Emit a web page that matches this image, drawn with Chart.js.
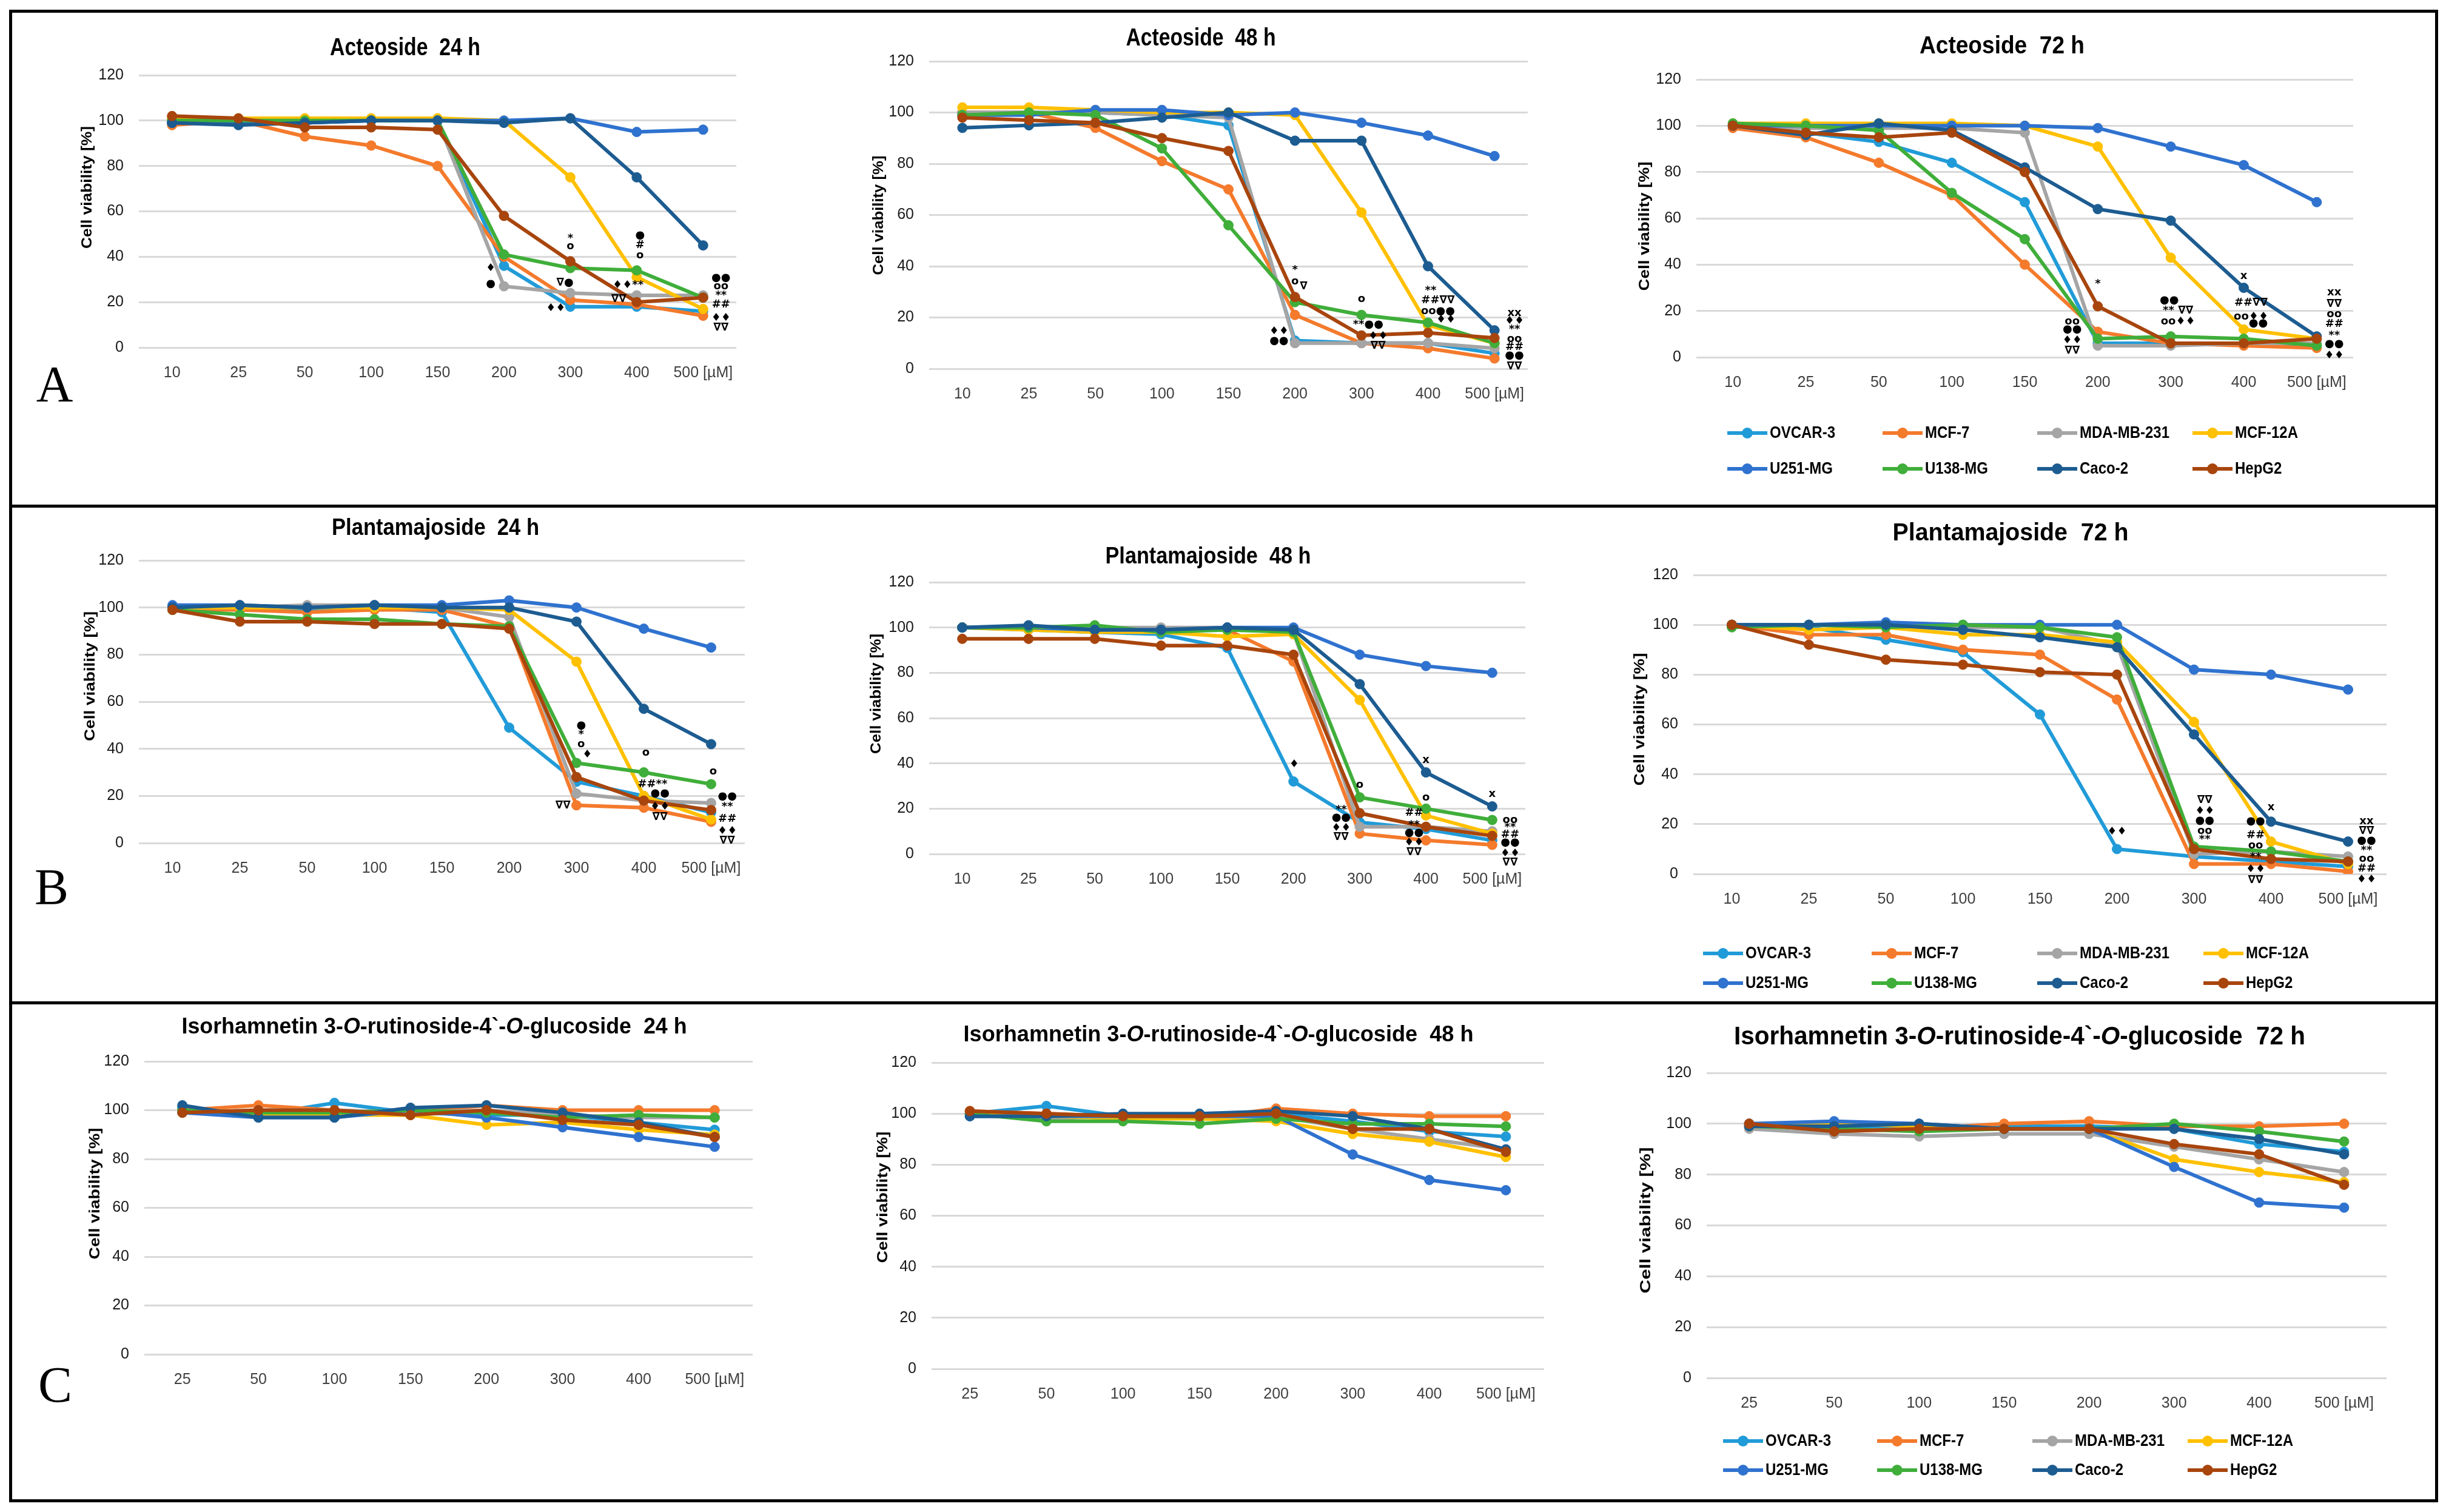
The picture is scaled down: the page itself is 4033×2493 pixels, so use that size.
<!DOCTYPE html>
<html>
<head>
<meta charset="utf-8">
<script src="https://cdn.jsdelivr.net/npm/chart.js@4.4.0/dist/chart.umd.min.js"></script>
<style>
html, body { margin: 0; padding: 0; background: #fff; }
#page { position: relative; width: 4033px; height: 2493px; overflow: hidden; background: #fff; }
#page canvas { position: absolute; }
.rule { position: absolute; background: #000; }
</style>
</head>
<body>
<div id="page"></div>
<script>
// series names and colours (Excel-like palette)
const cellLines = ['OVCAR-3', 'MCF-7', 'MDA-MB-231', 'MCF-12A', 'U251-MG', 'U138-MG', 'Caco-2', 'HepG2'];
const lineColors = ['#219BD8', '#F47A2C', '#A5A5A5', '#FFC000', '#2F72CF', '#3FAE3A', '#1C5C91', '#A8450D'];

const dosesAB = ['10', '25', '50', '100', '150', '200', '300', '400', '500 [µM]'];
const dosesC = ['25', '50', '100', '150', '200', '300', '400', '500 [µM]'];

// cell viability [%], one row per cell line (same order as cellLines)
const act24 = [
    [99, 99, 99, 100, 100, 36, 18, 18, 16],
    [98, 100, 93, 89, 80, 40, 21, 19, 14],
    [100, 100, 100, 100, 100, 27, 24, 23, 23],
    [101, 101, 101, 101, 101, 100, 75, 31, 17],
    [99, 99, 99, 100, 100, 100, 101, 95, 96],
    [100, 100, 100, 100, 100, 41, 35, 34, 22],
    [99, 98, 99, 100, 100, 99, 101, 75, 45],
    [102, 101, 97, 97, 96, 58, 38, 20, 22]
];
const act48 = [
    [100, 100, 100, 99, 95, 11, 10, 10, 6],
    [100, 100, 94, 81, 70, 21, 10, 8, 4],
    [100, 100, 100, 99, 98, 10, 10, 10, 8],
    [102, 102, 101, 100, 100, 99, 61, 17, 10],
    [99, 99, 101, 101, 99, 100, 96, 91, 83],
    [99, 100, 99, 86, 56, 26, 21, 18, 10],
    [94, 95, 96, 98, 100, 89, 89, 40, 15],
    [98, 97, 96, 90, 85, 28, 13, 14, 12]
];
const act72 = [
    [100, 97, 93, 84, 67, 6, 6, 6, 5],
    [99, 95, 84, 70, 40, 11, 6, 5, 4],
    [100, 99, 99, 99, 97, 5, 5, 6, 6],
    [101, 101, 101, 101, 100, 91, 43, 12, 8],
    [100, 100, 100, 100, 100, 99, 91, 83, 67],
    [101, 100, 98, 71, 51, 8, 9, 8, 5],
    [100, 96, 101, 98, 82, 64, 59, 30, 9],
    [100, 97, 95, 97, 80, 22, 6, 6, 8]
];
const plant24 = [
    [100, 100, 99, 100, 98, 49, 26, 20, 13],
    [99, 99, 98, 99, 99, 92, 16, 15, 9],
    [100, 100, 101, 101, 100, 96, 21, 18, 17],
    [100, 100, 100, 100, 100, 99, 77, 20, 10],
    [101, 101, 100, 101, 101, 103, 100, 91, 83],
    [99, 97, 95, 95, 93, 92, 34, 30, 25],
    [100, 101, 100, 101, 100, 100, 94, 57, 42],
    [99, 94, 94, 93, 93, 91, 28, 18, 14]
];
const plant48 = [
    [100, 99, 98, 97, 91, 32, 14, 11, 6],
    [100, 100, 99, 99, 99, 85, 9, 6, 4],
    [100, 100, 100, 100, 100, 98, 12, 12, 10],
    [100, 99, 98, 98, 96, 97, 68, 17, 9],
    [100, 100, 99, 99, 100, 100, 88, 83, 80],
    [100, 100, 101, 98, 99, 98, 25, 20, 15],
    [100, 101, 99, 99, 100, 99, 75, 36, 21],
    [95, 95, 95, 92, 92, 88, 18, 12, 8]
];
const plant72 = [
    [100, 99, 94, 89, 64, 10, 7, 5, 3],
    [100, 96, 96, 90, 88, 70, 4, 4, 1],
    [100, 100, 100, 99, 99, 92, 8, 9, 7],
    [100, 98, 99, 96, 96, 93, 61, 13, 4],
    [100, 100, 101, 100, 100, 100, 82, 80, 74],
    [99, 100, 99, 100, 99, 95, 11, 9, 5],
    [100, 100, 100, 98, 95, 91, 56, 21, 13],
    [100, 92, 86, 84, 81, 80, 10, 6, 5]
];
const iso24 = [
    [101, 98, 103, 99, 98, 98, 95, 92],
    [100, 102, 100, 99, 102, 100, 100, 100],
    [99, 100, 100, 99, 100, 98, 97, 97],
    [99, 98, 98, 98, 94, 95, 92, 90],
    [99, 97, 97, 100, 97, 93, 89, 85],
    [100, 99, 99, 100, 99, 97, 98, 97],
    [102, 97, 97, 101, 102, 99, 95, 89],
    [99, 100, 100, 98, 100, 96, 94, 89]
];
const iso48 = [
    [100, 103, 99, 99, 100, 97, 93, 91],
    [101, 100, 99, 98, 102, 100, 99, 99],
    [100, 98, 99, 99, 99, 94, 90, 86],
    [100, 99, 98, 98, 97, 92, 89, 83],
    [99, 99, 99, 99, 99, 84, 74, 70],
    [100, 97, 97, 96, 98, 96, 96, 95],
    [99, 99, 100, 100, 101, 99, 94, 86],
    [101, 100, 99, 99, 100, 94, 94, 85]
];
const iso72 = [
    [100, 99, 99, 99, 99, 98, 92, 89],
    [100, 97, 98, 100, 101, 99, 99, 100],
    [98, 96, 95, 96, 96, 91, 86, 81],
    [99, 100, 99, 98, 98, 86, 81, 77],
    [100, 101, 100, 98, 98, 83, 69, 67],
    [99, 98, 97, 98, 98, 100, 97, 93],
    [99, 99, 100, 98, 98, 98, 94, 88],
    [100, 97, 98, 98, 98, 92, 88, 76]
];

// significance symbols: [dose index, viability, text]
const act24Marks = [
    [4.8, 35, '♦'], [4.8, 28, '●'],
    [6.0, 48, '*'], [6.0, 44.5, 'o'], [5.92, 28.5, '∇●'], [5.78, 17.4, '♦♦'],
    [7.05, 49.4, '●'], [7.05, 45, '#'], [7.05, 40.6, 'o'], [6.87, 27.4, '♦♦**'], [6.73, 21.4, '∇∇'],
    [8.27, 30.6, '●●'], [8.27, 26.8, 'oo'], [8.27, 22.8, '**'], [8.27, 18.8, '##'], [8.27, 13.1, '♦♦'], [8.27, 8.8, '∇∇']
];
const act48Marks = [
    [5.0, 38.6, '*'], [5.0, 34, 'o'], [5.13, 32, '∇'],
    [4.76, 14.6, '♦♦'], [4.76, 10.8, '●●'],
    [6.0, 27.2, 'o'], [6.1, 17.3, '**●●'], [6.25, 12.7, '♦♦'], [6.25, 8.9, '∇∇'],
    [7.04, 30.4, '**'], [7.15, 26.6, '##∇∇'], [7.15, 22.5, 'oo●●'], [7.27, 19, '♦♦'],
    [8.3, 21.8, 'xx'], [8.3, 18.6, '♦♦'], [8.3, 15.2, '**'], [8.3, 11.6, 'oo'], [8.3, 8.5, '##'], [8.3, 5.1, '●●'], [8.3, 0.9, '∇∇']
];
const act72Marks = [
    [4.65, 15.4, 'oo'], [4.65, 11.9, '●●'], [4.65, 7.3, '♦♦'], [4.65, 2.8, '∇∇'],
    [5.0, 31.5, '*'],
    [5.98, 24.5, '●●'], [6.1, 20, '** ∇∇'], [6.1, 15.4, 'oo♦♦'],
    [7.0, 35, 'x'], [7.1, 23.4, '##∇∇'], [7.1, 17.5, 'oo♦♦'], [7.2, 14.7, '●●'],
    [8.24, 28, 'xx'], [8.24, 23.1, '∇∇'], [8.24, 18.6, 'oo'], [8.24, 14.3, '##'], [8.24, 9.4, '**'], [8.24, 5.6, '●●'], [8.24, 0.7, '♦♦']
];
const plant24Marks = [
    [6.07, 49.8, '●'], [6.07, 46, '*'], [6.07, 42, 'o'], [6.16, 37.5, '♦'],
    [5.8, 15.9, '∇∇'],
    [7.03, 38.4, 'o'], [7.13, 24.8, '##**'], [7.24, 21, '●●'], [7.24, 15.3, '♦♦'], [7.24, 11, '∇∇'],
    [8.03, 30.4, 'o'], [8.24, 19.7, '●●'], [8.24, 15.3, '**'], [8.24, 10.3, '##'], [8.24, 5, '♦♦'], [8.24, 0.9, '∇∇']
];
const plant48Marks = [
    [5.01, 39.6, '♦'],
    [5.72, 19.4, '**'], [5.72, 15.9, '●●'], [5.72, 11.4, '♦♦'], [5.72, 7.3, '∇∇'],
    [6.0, 30.5, 'o'],
    [7.0, 41.4, 'x'], [7.0, 24.7, 'o'], [6.82, 18.1, '##'], [6.82, 12.8, '**'], [6.82, 9.3, '●●'], [6.82, 4.9, '♦♦'], [6.82, 0.7, '∇∇'],
    [8.0, 26.4, 'x'], [8.27, 14.9, 'oo'], [8.27, 11.7, '**'], [8.27, 8.6, '##'], [8.27, 4.9, '●●'], [8.27, 0.3, '♦♦'], [8.27, -3.9, '∇∇']
];
const plant72Marks = [
    [5.0, 16.9, '♦♦'],
    [6.14, 29.5, '∇∇'], [6.14, 25.2, '♦♦'], [6.14, 21.3, '●●'], [6.14, 17.2, 'oo'], [6.14, 13.7, '**'],
    [7.0, 26.7, 'x'], [6.8, 21.2, '●●'], [6.8, 15.6, '##'], [6.8, 11.4, 'oo'], [6.8, 6.7, '**'], [6.8, 1.9, '♦♦'], [6.8, -2.5, '∇∇'],
    [8.24, 21.2, 'xx'], [8.24, 17.2, '∇∇'], [8.24, 13.3, '●●'], [8.24, 9.5, '**'], [8.24, 6, 'oo'], [8.24, 2.2, '##'], [8.24, -2.2, '♦♦']
];

const isoTitle = (h) => [['Isorhamnetin 3-', false], ['O', true], ['-rutinoside-4`-', false], ['O', true], ['-glucoside  ' + h, false]];

const NARROW = '"Liberation Sans Narrow", "Arial Narrow", "Liberation Sans", sans-serif';
const WIDE = '"Liberation Sans", Arial, sans-serif';

// page layout, in page pixels; titleAt = [centre x, centre y, width, font size]
const panels = [
    { data: act24, labels: dosesAB, marks: act24Marks, title: [['Acteoside  24 h', false]],
      box: [0, 0, 1337, 836], plot: [229, 124, 1214, 573], titleAt: [668, 80, 248, 40], yTitleAt: [145, 309, 202], letter: ['A', 90, 662] },
    { data: act48, labels: dosesAB, marks: act48Marks, title: [['Acteoside  48 h', false]],
      box: [1337, 0, 2649, 836], plot: [1532, 101, 2519, 608], titleAt: [1980, 64, 247, 40], yTitleAt: [1450, 355, 197] },
    { data: act72, labels: dosesAB, marks: act72Marks, title: [['Acteoside  72 h', false]],
      box: [2649, 0, 4033, 836], plot: [2797, 131, 3880, 589], titleAt: [3301, 77, 272, 40], yTitleAt: [2713, 373, 213],
      legend: { cols: [2848, 3104, 3359, 3615], rows: [714, 773] } },
    { data: plant24, labels: dosesAB, marks: plant24Marks, title: [['Plantamajoside  24 h', false]],
      box: [0, 836, 1337, 1654], plot: [229, 924, 1228, 1390], titleAt: [718, 872, 342, 38], yTitleAt: [150, 1115, 214], letter: ['B', 85, 1491] },
    { data: plant48, labels: dosesAB, marks: plant48Marks, title: [['Plantamajoside  48 h', false]],
      box: [1337, 836, 2649, 1654], plot: [1532, 960, 2515, 1408], titleAt: [1992, 919, 339, 38], yTitleAt: [1446, 1144, 198] },
    { data: plant72, labels: dosesAB, marks: plant72Marks, title: [['Plantamajoside  72 h', false]],
      box: [2649, 836, 4033, 1654], plot: [2792, 948, 3935, 1441], titleAt: [3315, 880, 389, 40], yTitleAt: [2705, 1186, 219],
      legend: { cols: [2808, 3086, 3359, 3633], rows: [1572, 1621] } },
    { data: iso24, labels: dosesC, marks: [], title: isoTitle('24 h'),
      box: [0, 1654, 1337, 2493], plot: [238, 1750, 1241, 2233], titleAt: [716, 1694, 833, 37], yTitleAt: [158, 1968, 217], letter: ['C', 91, 2312] },
    { data: iso48, labels: dosesC, marks: [], title: isoTitle('48 h'),
      box: [1337, 1654, 2649, 2493], plot: [1536, 1752, 2546, 2257], titleAt: [2009, 1707, 841, 37], yTitleAt: [1457, 1974, 217] },
    { data: iso72, labels: dosesC, marks: [], title: isoTitle('72 h'),
      box: [2649, 1654, 4033, 2493], plot: [2814, 1769, 3935, 2272], titleAt: [3330, 1710, 942, 42], yTitleAt: [2715, 2012, 241],
      legend: { cols: [2841, 3095, 3351, 3607], rows: [2376, 2424] } }
];

function segWidth(ctx, segs, weight, size, family) {
    let w = 0;
    segs.forEach(s => {
        ctx.font = (s[1] ? 'italic ' : '') + weight + ' ' + size + 'px ' + family;
        w += ctx.measureText(s[0]).width;
    });
    return w;
}

// text at a given font size, squeezed horizontally to the wanted width
function drawSegs(ctx, segs, cx, cy, target, size, weight, family) {
    const w = segWidth(ctx, segs, weight, size, family);
    ctx.save();
    ctx.translate(cx - target / 2, cy);
    ctx.scale(target / w, 1);
    ctx.textAlign = 'left';
    ctx.textBaseline = 'middle';
    ctx.fillStyle = '#000';
    let x = 0;
    segs.forEach(s => {
        ctx.font = (s[1] ? 'italic ' : '') + weight + ' ' + size + 'px ' + family;
        ctx.fillText(s[0], x, 0);
        x += ctx.measureText(s[0]).width;
    });
    ctx.restore();
}

function makeDecor(p) {
    return {
        id: 'decor',
        afterDraw(chart) {
            const ctx = chart.ctx;
            const ox = p.box[0], oy = p.box[1];
            ctx.save();
            drawSegs(ctx, p.title, p.titleAt[0] - ox, p.titleAt[1] - oy, p.titleAt[2], p.titleAt[3], 'bold', WIDE);

            ctx.save();
            ctx.translate(p.yTitleAt[0] - ox, p.yTitleAt[1] - oy);
            ctx.rotate(-Math.PI / 2);
            drawSegs(ctx, [['Cell viability [%]', false]], 0, 0, p.yTitleAt[2], 23, 'bold', WIDE);
            ctx.restore();

            // significance symbols
            const xs = chart.scales.x, ys = chart.scales.y;
            ctx.font = 'bold 18px "DejaVu Sans", sans-serif';
            ctx.textAlign = 'center';
            ctx.textBaseline = 'middle';
            ctx.fillStyle = '#000';
            p.marks.forEach(m => {
                ctx.fillText(m[2], xs.getPixelForValue(m[0]), ys.getPixelForValue(m[1]));
            });

            if (p.legend) {
                const fs = 27;
                const sx = 108 / segWidth(ctx, [['OVCAR-3', false]], 'bold', fs, WIDE);
                cellLines.forEach((name, i) => {
                    const x0 = p.legend.cols[i % 4] - ox;
                    const y = p.legend.rows[Math.floor(i / 4)] - oy;
                    ctx.strokeStyle = lineColors[i];
                    ctx.lineWidth = 6;
                    ctx.beginPath();
                    ctx.moveTo(x0, y);
                    ctx.lineTo(x0 + 66, y);
                    ctx.stroke();
                    ctx.fillStyle = lineColors[i];
                    ctx.beginPath();
                    ctx.arc(x0 + 33, y, 9, 0, Math.PI * 2);
                    ctx.fill();
                    ctx.save();
                    ctx.translate(x0 + 70, y + 1);
                    ctx.scale(sx, 1);
                    ctx.fillStyle = '#000';
                    ctx.font = 'bold ' + fs + 'px ' + WIDE;
                    ctx.textAlign = 'left';
                    ctx.textBaseline = 'middle';
                    ctx.fillText(name, 0, 0);
                    ctx.restore();
                });
            }

            if (p.letter) {
                ctx.fillStyle = '#000';
                ctx.font = '84px "Liberation Serif", "Times New Roman", serif';
                ctx.textAlign = 'center';
                ctx.textBaseline = 'alphabetic';
                ctx.fillText(p.letter[0], p.letter[1] - ox, p.letter[2] - oy);
            }
            ctx.restore();
        }
    };
}

const page = document.getElementById('page');
const X_AXIS_H = 60;

panels.forEach(p => {
    const [bx0, by0, bx1, by1] = p.box;
    const [px0, py0, px1, py1] = p.plot;
    const cv = document.createElement('canvas');
    cv.width = bx1 - bx0;
    cv.height = by1 - by0;
    cv.style.left = bx0 + 'px';
    cv.style.top = by0 + 'px';
    cv.style.width = cv.width + 'px';
    cv.style.height = cv.height + 'px';
    page.appendChild(cv);

    const datasets = p.data.map((vals, i) => ({
        label: cellLines[i],
        data: vals,
        borderColor: lineColors[i],
        backgroundColor: lineColors[i],
        pointBackgroundColor: lineColors[i],
        pointBorderColor: lineColors[i],
        borderWidth: 6,
        pointRadius: 8,
        pointBorderWidth: 1,
        tension: 0,
        order: -i
    }));

    new Chart(cv.getContext('2d'), {
        type: 'line',
        data: { labels: p.labels, datasets: datasets },
        options: {
            responsive: false,
            animation: false,
            devicePixelRatio: 1,
            layout: {
                padding: {
                    left: 0,
                    top: py0 - by0,
                    right: bx1 - px1,
                    bottom: by1 - py1 - X_AXIS_H
                }
            },
            plugins: {
                legend: { display: false },
                title: { display: false },
                tooltip: { enabled: false }
            },
            scales: {
                x: {
                    offset: true,
                    grid: { display: false },
                    border: { display: false },
                    ticks: {
                        autoSkip: false,
                        maxRotation: 0,
                        padding: 19,
                        color: '#404040',
                        font: { family: NARROW, size: 25 }
                    },
                    afterFit(s) { s.height = X_AXIS_H; }
                },
                y: {
                    min: 0,
                    max: 120,
                    ticks: {
                        stepSize: 20,
                        padding: 25,
                        color: '#1a1a1a',
                        font: { family: NARROW, size: 25 }
                    },
                    grid: { color: '#d9d9d9', lineWidth: 3, drawTicks: false },
                    border: { display: false },
                    afterFit(s) { s.width = px0 - bx0; }
                }
            }
        },
        plugins: [makeDecor(p)]
    });
});

// frame and row separators
function rule(x, y, w, h) {
    const d = document.createElement('div');
    d.className = 'rule';
    d.style.left = x + 'px';
    d.style.top = y + 'px';
    d.style.width = w + 'px';
    d.style.height = h + 'px';
    page.appendChild(d);
}
rule(15, 16, 4005, 5);
rule(15, 2472, 4005, 5);
rule(15, 16, 5, 2461);
rule(4015, 16, 5, 2461);
rule(15, 832, 4005, 5);
rule(15, 1651, 4005, 5);
</script>
</body>
</html>
